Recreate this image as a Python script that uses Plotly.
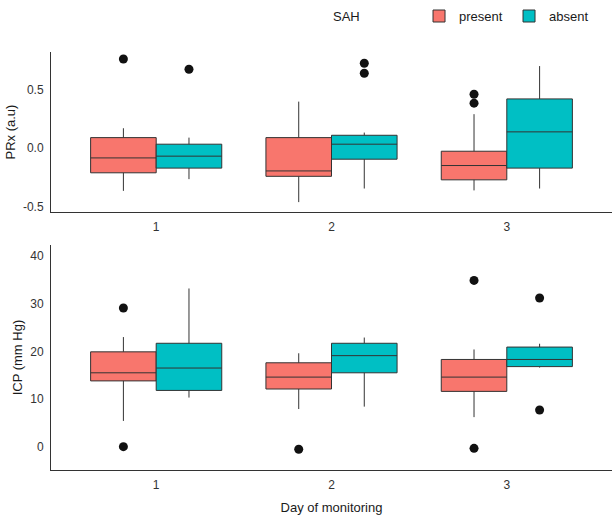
import plotly.graph_objects as go

days = [1, 2, 3]

# PRx (a.u) box statistics
prx_present_low = [-0.364, -0.46, -0.36]
prx_present_q1 = [-0.21, -0.24, -0.27]
prx_present_med = [-0.083, -0.194, -0.148]
prx_present_q3 = [0.09, 0.09, -0.026]
prx_present_high = [0.17, 0.397, 0.29]
prx_present_out_day = [1, 3, 3]
prx_present_out_val = [0.76, 0.46, 0.384]

prx_absent_low = [-0.264, -0.344, -0.344]
prx_absent_q1 = [-0.17, -0.094, -0.17]
prx_absent_med = [-0.068, 0.034, 0.139]
prx_absent_q3 = [0.034, 0.11, 0.42]
prx_absent_high = [0.09, 0.133, 0.70]
prx_absent_out_day = [1, 2, 2]
prx_absent_out_val = [0.673, 0.724, 0.639]

# ICP (mm Hg) box statistics
icp_present_low = [5.4, 7.9, 6.2]
icp_present_q1 = [13.8, 12.1, 11.6]
icp_present_med = [15.5, 14.6, 14.6]
icp_present_q3 = [19.9, 17.6, 18.3]
icp_present_high = [23.0, 19.6, 20.4]
icp_present_out_day = [1, 1, 2, 3, 3]
icp_present_out_val = [29.1, 0.0, -0.55, 34.9, -0.35]

icp_absent_low = [10.3, 8.4, 16.6]
icp_absent_q1 = [11.8, 15.5, 16.8]
icp_absent_med = [16.5, 19.1, 18.3]
icp_absent_q3 = [21.7, 21.7, 20.9]
icp_absent_high = [33.2, 22.9, 21.6]
icp_absent_out_day = [3, 3]
icp_absent_out_val = [31.2, 7.7]

groups = ["present", "absent"]
colors = {"present": "#F8766D", "absent": "#00BFC4"}
offset = {"present": -0.187, "absent": 0.187}
box_w = 0.374

FONT = "Liberation Sans, Arial, sans-serif"

fig = go.Figure()

panels = [
    ("x", "y", {
        "present": (prx_present_low, prx_present_q1, prx_present_med, prx_present_q3, prx_present_high,
                    prx_present_out_day, prx_present_out_val),
        "absent": (prx_absent_low, prx_absent_q1, prx_absent_med, prx_absent_q3, prx_absent_high,
                   prx_absent_out_day, prx_absent_out_val),
    }, True),
    ("x2", "y2", {
        "present": (icp_present_low, icp_present_q1, icp_present_med, icp_present_q3, icp_present_high,
                    icp_present_out_day, icp_present_out_val),
        "absent": (icp_absent_low, icp_absent_q1, icp_absent_med, icp_absent_q3, icp_absent_high,
                   icp_absent_out_day, icp_absent_out_val),
    }, False),
]

for xa, ya, data, show in panels:
    for g in groups:
        lo, q1, med, q3, hi, od, ov = data[g]
        fig.add_trace(go.Box(
            x=[d + offset[g] for d in days],
            lowerfence=lo, q1=q1, median=med, q3=q3, upperfence=hi,
            width=box_w, whiskerwidth=0,
            fillcolor=colors[g],
            line=dict(color="#333333", width=1),
            boxpoints=False,
            name=g, legendgroup=g, showlegend=show,
            xaxis=xa, yaxis=ya,
        ))
        fig.add_trace(go.Scatter(
            x=[d + offset[g] for d in od], y=ov,
            mode="markers",
            marker=dict(color="#111111", size=9),
            showlegend=False, hoverinfo="skip",
            xaxis=xa, yaxis=ya,
        ))

axis_common = dict(
    showgrid=False, zeroline=False, showline=True,
    linecolor="#333333", linewidth=1, ticks="",
    tickfont=dict(family=FONT, size=12, color="#333333"),
    automargin=False, ticklabelstandoff=4,
)
TITLE_FONT = dict(family=FONT, size=13, color="#1a1a1a")

fig.update_layout(
    width=612, height=515,
    margin=dict(l=51, r=0, t=52, b=45),
    paper_bgcolor="white", plot_bgcolor="white",
    boxmode="overlay",
    font=dict(family=FONT, size=12, color="#1a1a1a"),
    xaxis=dict(domain=[0, 1], anchor="y", range=[0.4, 3.6],
               tickvals=days, ticktext=[str(d) for d in days], **axis_common),
    yaxis=dict(domain=[0.617, 1], anchor="x", range=[-0.545, 0.82],
               tickvals=[-0.5, 0.0, 0.5], ticktext=["-0.5", "0.0", "0.5"],
               title=dict(text="PRx (a.u)", font=TITLE_FONT, standoff=4),
               **axis_common),
    xaxis2=dict(domain=[0, 1], anchor="y2", range=[0.4, 3.6],
                tickvals=days, ticktext=[str(d) for d in days],
                title=dict(text="Day of monitoring", font=TITLE_FONT, standoff=12),
                **axis_common),
    yaxis2=dict(domain=[0, 0.538], anchor="x2", range=[-4.9, 42.3],
                tickvals=[0, 10, 20, 30, 40],
                title=dict(text="ICP (mm Hg)", font=TITLE_FONT, standoff=4),
                **axis_common),
    legend=dict(orientation="h", x=0.656, xanchor="left", y=1.086, yanchor="middle",
                font=dict(family=FONT, size=13, color="#1a1a1a"),
                entrywidth=45, bgcolor="rgba(0,0,0,0)"),
    annotations=[dict(text="SAH", xref="paper", yref="paper", x=0.5276, y=1.086,
                      showarrow=False, xanchor="center", yanchor="middle",
                      font=dict(family=FONT, size=13, color="#1a1a1a"))],
)

fig.write_html("out.html", config={"displayModeBar": False},
               post_script="document.body.style.margin='0px';document.body.style.overflow='hidden';")
